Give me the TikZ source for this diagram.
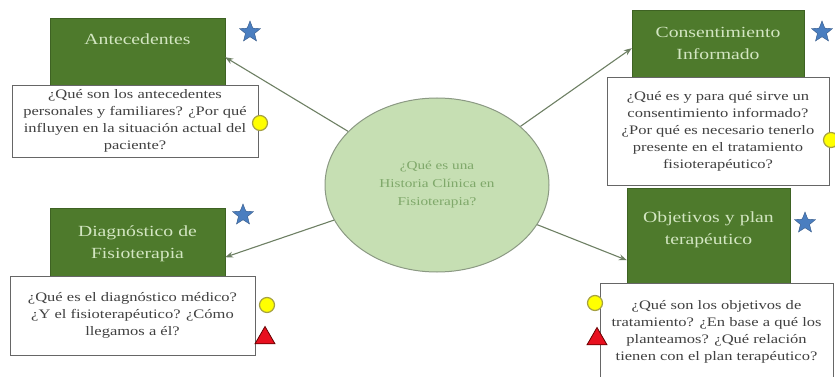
\documentclass[tikz,border=0pt]{standalone}
\usepackage{fontspec}
\setmainfont{Liberation Serif}[FakeStretch=1.27]
\usetikzlibrary{arrows.meta, shapes.geometric}
\definecolor{boxgreen}{HTML}{4E7A2C}
\definecolor{titlegreen}{HTML}{D3E6C2}
\definecolor{ellfill}{HTML}{C6DFB3}
\definecolor{elltext}{HTML}{7FA86A}
\definecolor{linegray}{HTML}{6E8064}
\definecolor{textgray}{HTML}{404040}
\definecolor{starblue}{HTML}{4A7EC0}
\definecolor{dotyellow}{HTML}{FFFF00}
\definecolor{trired}{HTML}{E8101F}
\tikzset{>=Stealth,
  titlebox/.style = {draw=boxgreen!80!black, fill=boxgreen, text=titlegreen,
    font=\fontsize{15.5}{22}\selectfont, align=center, anchor=north,
    inner xsep=4pt, text height=11pt},
  questionbox/.style = {draw=gray!80!black, fill=white, text=textgray, line width=0.8pt,
    font=\fontsize{13}{17}\selectfont, align=center, inner sep=0pt},
  arrowline/.style = {->, draw=linegray, line width=1.1pt},
  bluestar/.style = {star, star points=5, star point ratio=2.3, minimum size=22pt,
    inner sep=0pt, fill=starblue, draw=starblue!70!black},
  yellowdot/.style = {circle, minimum size=15pt, inner sep=0pt, fill=dotyellow,
    draw=yellow!60!black, line width=1.2pt},
  redtri/.style = {regular polygon, regular polygon sides=3, minimum size=23pt,
    inner sep=0pt, fill=trired, draw=red!40!black, line width=0.8pt}
}

\begin{document}
\begin{tikzpicture}[x=1pt, y=-1pt]
    \path[use as bounding box, fill=white] (0,0) rectangle (835,377);
    % centre
    \node[ellipse, minimum width=224pt, minimum height=174pt, fill=ellfill,
      draw=linegray!80, line width=1pt, text=elltext, align=center,
      font=\fontsize{12}{18}\selectfont] (hc) at (437,185)
      {¿Qué es una\\ Historia Clínica en\\ Fisioterapia?};
    % titles
    \node[titlebox, text width=167pt, inner ysep=15pt, text depth=37pt] (ante) at (137.5,18) {Antecedentes};
    \node[titlebox, text width=164pt, inner ysep=16pt, text depth=33pt] (cons) at (718,10) {Consentimiento\\ Informado};
    \node[titlebox, text width=167pt, inner ysep=17pt, text depth=53pt] (diag) at (137.5,208) {Diagnóstico de\\ Fisioterapia};
    \node[titlebox, text width=155pt, inner ysep=23pt, text depth=87pt] (obj) at (708.5,188) {Objetivos y plan\\ terapéutico};
    % questions
    \node[questionbox, minimum width=246pt, minimum height=72pt] (anteq) at (135,121)
      {¿Qué son los antecedentes\\ personales y familiares? ¿Por qué\\ influyen en la situación actual del\\ paciente?};
    \node[questionbox, minimum width=222pt, minimum height=108pt] (consq) at (718,131)
      {¿Qué es y para qué sirve un\\ consentimiento informado?\\ ¿Por qué es necesario tenerlo\\ presente en el tratamiento\\ fisioterapéutico?};
    \node[questionbox, minimum width=245pt, minimum height=79pt] (diagq) at (132.5,315.5)
      {¿Qué es el diagnóstico médico?\\ ¿Y el fisioterapéutico? ¿Cómo\\ llegamos a él?};
    \node[questionbox, minimum width=233pt, minimum height=97pt] (objq) at (716.5,332)
      {¿Qué son los objetivos de\\ tratamiento? ¿En base a qué los\\ planteamos? ¿Qué relación\\ tienen con el plan terapéutico?};
    % arrows
    \draw[arrowline] (hc) -- (ante.east);
    \draw[arrowline] (hc) -- (cons.west);
    \draw[arrowline] (hc) -- (diag.east);
    \draw[arrowline] (hc) -- (obj.west);
    % marks
    \foreach \x/\y/\n in {250/32/a, 822/32/c, 243/215/d, 805/223/o}
    \node[bluestar] (star\n) at (\x,\y) {};
    \foreach \x/\y/\n in {260/123/a, 831/140/c, 267/305/d, 595/303/o}
    \node[yellowdot] (dot\n) at (\x,\y) {};
    \foreach \x/\y/\n in {265/338/d, 597/339/o}
    \node[redtri] (tri\n) at (\x,\y) {};
\end{tikzpicture}
\end{document}
